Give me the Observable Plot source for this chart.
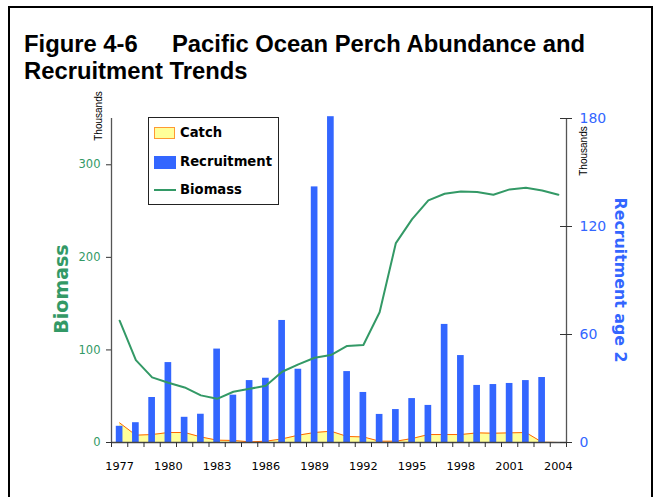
<!DOCTYPE html>
<html>
<head>
<meta charset="utf-8">
<script src="https://cdn.jsdelivr.net/npm/d3@7"></script>
<script src="https://cdn.jsdelivr.net/npm/@observablehq/plot@0.6"></script>
<style>
  html, body { margin: 0; padding: 0; background: #fff; }
  body { width: 661px; height: 497px; overflow: hidden; position: relative; }
  #frame { position: absolute; left: 8px; top: 6px; width: 641px; height: 520px; border: 2px solid #000; }
  .title { position: absolute; font: bold 23.8px "Liberation Sans", Arial, sans-serif; line-height: 27px; color: #000; white-space: nowrap; }
  #chart { position: absolute; left: 0; top: 90px; }
  .rot { position: absolute; white-space: nowrap; }
  .thou { font: 10px "Liberation Sans Narrow", "Liberation Sans", Arial, sans-serif; color: #000; }
  #legend { position: absolute; left: 148px; top: 117px; width: 129px; height: 86px; border: 1px solid #222; background: #fff;
            font: bold 13.2px "Comic Sans MS", "DejaVu Sans", sans-serif; color: #000; }
  #legend .sw { position: absolute; left: 5px; width: 22px; }
  #legend .lb { position: absolute; left: 31px; line-height: 16px; }
</style>
</head>
<body>
<div id="frame"></div>
<div class="title" style="left:24px;top:30px;">Figure 4-6</div>
<div class="title" style="left:172px;top:30px;">Pacific Ocean Perch Abundance and</div>
<div class="title" style="left:24px;top:57px;">Recruitment Trends</div>
<div id="chart"></div>
<div class="rot" id="ylab" style="left:61px;top:289px;transform:translate(-50%,-50%) rotate(-90deg);font:bold 19px 'Comic Sans MS','DejaVu Sans',sans-serif;color:#339966;">Biomass</div>
<div class="rot" id="y2lab" style="left:620px;top:280px;transform:translate(-50%,-50%) rotate(90deg);font:bold 15.8px 'Comic Sans MS','DejaVu Sans',sans-serif;color:#3366ff;">Recruitment age 2</div>
<div class="rot thou" style="left:97.5px;top:116px;transform:translate(-50%,-50%) rotate(-90deg);">Thousands</div>
<div class="rot thou" style="left:582.5px;top:151px;transform:translate(-50%,-50%) rotate(-90deg);">Thousands</div>
<div id="legend">
  <div class="sw" style="top:9px;height:10px;background:#ffff99;border:1.5px solid #ff9933;width:19px;"></div>
  <div class="lb" style="top:7px;">Catch</div>
  <div class="sw" style="top:38px;height:13px;background:#3366ff;"></div>
  <div class="lb" style="top:36px;">Recruitment</div>
  <div class="sw" style="top:71px;height:2px;background:#339966;"></div>
  <div class="lb" style="top:64px;">Biomass</div>
</div>
<script>
const years = [1977,1978,1979,1980,1981,1982,1983,1984,1985,1986,1987,1988,1989,1990,
               1991,1992,1993,1994,1995,1996,1997,1998,1999,2000,2001,2002,2003,2004];
// Biomass (thousands t, left axis)
const biomass = [131.6,89,70.3,64.5,59.5,50.9,47.2,54.8,58,61.3,76.4,84.4,91.6,94.5,
                 104.3,105.3,140.7,215.4,241.3,261.5,268.7,271.2,270.6,267.6,273.4,275.2,272.3,267.6];
// Recruitment age 2 (right axis)
const recruitment = [9,11,25,44.4,14,15.7,51.9,26.3,34.4,35.7,67.8,40.7,142,181,
                     39.4,27.8,15.6,18.3,24.4,20.6,65.6,48.3,31.7,32.2,32.8,34.4,36.1,0];
// Catch (thousands t, left axis)
const catchT = [21.2,7.9,8.6,10.8,10.8,6,2.5,2.2,0.7,1.4,3.9,7.9,10.8,12.2,
                6.5,6,1.4,1.4,4.3,8.6,8.6,8.6,10.4,10,10.4,10.8,0.3,0];
const leftTicks = [0,100,200,300];
const rightTicks = [0,60,120,180];
const labelYears = [1977,1980,1983,1986,1989,1992,1995,1998,2001,2004];

const leftMax = 350, rightMax = 180;
const toLeft = v => v * leftMax / rightMax;

const data = years.map((year, i) => ({year, biomass: biomass[i], rec: recruitment[i], c: catchT[i]}));
const bounds = years.map(y => y - 0.5).concat([years[years.length - 1] + 0.5]);

const green = "#339966", blue = "#3366ff";
const font = "'Comic Sans MS','DejaVu Sans',sans-serif";
const xLo = years[0] - 0.5, xHi = years[years.length - 1] + 0.5;

const chart = Plot.plot({
  width: 661,
  height: 407,
  marginTop: 28,
  marginBottom: 55,
  marginLeft: 111,
  marginRight: 95,
  style: {fontFamily: font, background: "transparent", overflow: "visible"},
  x: {type: "linear", domain: [xLo, xHi], axis: null},
  y: {domain: [0, leftMax], axis: null},
  marks: [
    Plot.areaY(data, {x: "year", y: "c", fill: "#ffff99"}),
    Plot.lineY(data, {x: "year", y: "c", stroke: "#ff6600", strokeWidth: 1}),
    Plot.rectY(data, {x1: d => d.year - 0.205, x2: d => d.year + 0.205, y: d => toLeft(d.rec), fill: blue}),
    Plot.lineY(data, {x: "year", y: "biomass", stroke: green, strokeWidth: 2}),
    Plot.ruleX([xLo], {stroke: "#555", strokeWidth: 1.3}),
    Plot.ruleX([xHi], {stroke: "#555", strokeWidth: 1.3}),
    Plot.ruleY([0], {stroke: "#444", strokeWidth: 1.3}),
    // left axis
    Plot.axisY(leftTicks, {anchor: "left", tickSize: 5, tickFormat: () => "", stroke: "#333", label: null}),
    Plot.axisY(leftTicks, {anchor: "left", tickSize: 0, tickPadding: 11, color: green, fontSize: 11.5, label: null}),
    // right axis
    Plot.ruleY(rightTicks, {y: d => toLeft(d), x1: xHi, x2: xHi, insetLeft: -6, insetRight: -6, stroke: "#333"}),
    Plot.axisY(rightTicks.map(toLeft), {anchor: "right", tickSize: 0, tickPadding: 13, tickFormat: v => Math.round(v * rightMax / leftMax), color: blue, fontSize: 14, label: null}),
    // bottom axis
    Plot.axisX(bounds, {anchor: "bottom", tickSize: 5, tickFormat: () => "", stroke: "#333", label: null}),
    Plot.axisX(labelYears, {anchor: "bottom", tickSize: 0, tickPadding: 19, tickFormat: d => String(d), fill: "#000", fontSize: 11.3, label: null})
  ]
});
document.getElementById("chart").appendChild(chart);
</script>
</body>
</html>
